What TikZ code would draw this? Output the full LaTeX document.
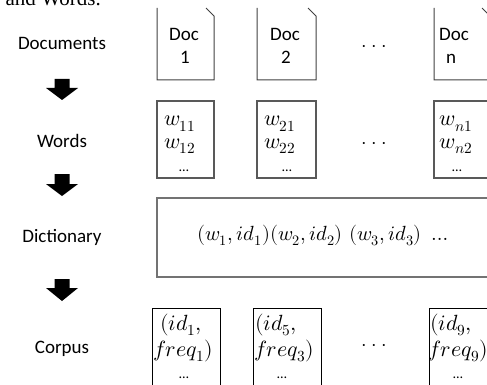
\documentclass[tikz,border=0pt]{standalone}
\usepackage{fontspec}
\usepackage{unicode-math}
\setmathfont{Latin Modern Math}
\newfontfamily\calibfont{Carlito}
\newfontfamily\timesfont{Liberation Serif}
\newcommand{\spreaddots}{$\cdot$\hspace{4.5pt}$\cdot$\hspace{4.5pt}$\cdot$}
\begin{document}
\begin{tikzpicture}[x=1pt,y=-1pt,
  lbl/.style={font=\calibfont\fontsize{19}{22}\selectfont, inner sep=0, anchor=base},
  mth/.style={font=\fontsize{22}{26}\selectfont, inner sep=0, anchor=base},
  smalldots/.style={font=\calibfont\fontsize{14}{16}\selectfont, inner sep=0, anchor=base},
  betweendots/.style={font=\fontsize{20}{24}\selectfont, inner sep=0, anchor=center},
  docline/.style={draw=black!75, line width=1pt},
  wordbox/.style={draw=black!65, line width=1.2pt},
  dictbox/.style={draw=black!55, line width=2pt},
  corpbox/.style={draw=black, line width=0.9pt},
  blockarrow/.style={fill=black}]
\useasboundingbox (0,0) rectangle (487,385);
\clip (0,0) rectangle (487,385);

% top cut-off text
\node[font=\timesfont\fontsize{21}{24}\selectfont, inner sep=0, anchor=base east] (toptext) at (101,6) {and Words.};

% row labels
\node[lbl] (lDocs) at (62,50) {Documents};
\node[lbl] (lWords) at (62,147) {Words};
\node[lbl] (lDict) at (62,242) {Dictionary};
\node[lbl] (lCorp) at (62,353) {Corpus};

% block arrows
\fill[blockarrow] (54.5,79) -- (69.5,79) -- (69.5,88) -- (78,88) -- (62,100) -- (46,88) -- (54.5,88) -- cycle;
\fill[blockarrow] (54.5,174) -- (69.5,174) -- (69.5,184) -- (78,184) -- (62,196) -- (46,184) -- (54.5,184) -- cycle;
\fill[blockarrow] (54.5,279) -- (69.5,279) -- (69.5,288) -- (78,288) -- (62,301) -- (46,288) -- (54.5,288) -- cycle;

% document boxes (folded corner)
\draw[docline] (157,8) -- (157,80) -- (214,80) -- (214,16) -- (206,8);
\draw[docline] (257,8) -- (257,80) -- (316,80) -- (316,16) -- (308,8);
\draw[docline] (434,8) -- (434,80) -- (490,80) -- (490,16) -- (482,8);
\node[lbl] (d1a) at (184,41) {Doc};
\node[lbl] (d1b) at (185,64) {1};
\node[lbl] (d2a) at (285,41) {Doc};
\node[lbl] (d2b) at (286,64) {2};
\node[lbl] (dna) at (454,41) {Doc};
\node[lbl] (dnb) at (451,64) {n};
\node[betweendots] (docdots) at (374,48) {\spreaddots};

% word boxes
\draw[wordbox] (157,101) rectangle (214,178);
\draw[wordbox] (257,101) rectangle (316,178);
\draw[wordbox] (434,101) rectangle (490,178);
\node[mth] (w11) at (180,126) {$w_{11}$};
\node[mth] (w12) at (180,148) {$w_{12}$};
\node[smalldots] (wd1) at (184,171) {…};
\node[mth] (w21) at (280,126) {$w_{21}$};
\node[mth] (w22) at (280,148) {$w_{22}$};
\node[smalldots] (wd2) at (287,171) {…};
\node[mth] (wn1) at (456,126) {$w_{n1}$};
\node[mth] (wn2) at (456,148) {$w_{n2}$};
\node[smalldots] (wdn) at (457,171) {…};
\node[betweendots] (worddots) at (374,145) {\spreaddots};

% dictionary box
\draw[dictbox] (157,198) rectangle (490,277);
\node[mth, font=\fontsize{20.5}{24}\selectfont] (dicttext) at (323,240) {$(w_1, id_1)(w_2, id_2)\ (w_3, id_3)\ \ldots$};

% corpus boxes
\draw[corpbox] (152,392) -- (152,308) -- (220,308) -- (220,392);
\draw[corpbox] (253,392) -- (253,308) -- (321,308) -- (321,392);
\draw[corpbox] (429,392) -- (429,308) -- (497,308) -- (497,392);
\node[mth] (c1a) at (181,330) {$(id_1,$};
\node[mth] (c1b) at (183,356) {$freq_1)$};
\node[smalldots] (c1c) at (184,378) {…};
\node[mth] (c2a) at (276,330) {$(id_5,$};
\node[mth] (c2b) at (284,356) {$freq_3)$};
\node[smalldots] (c2c) at (282,378) {…};
\node[mth] (cna) at (451,330) {$(id_9,$};
\node[mth] (cnb) at (458,356) {$freq_9)$};
\node[smalldots] (cnc) at (458,378) {…};
\node[betweendots] (corpdots) at (374,347) {\spreaddots};
\end{tikzpicture}
\end{document}
